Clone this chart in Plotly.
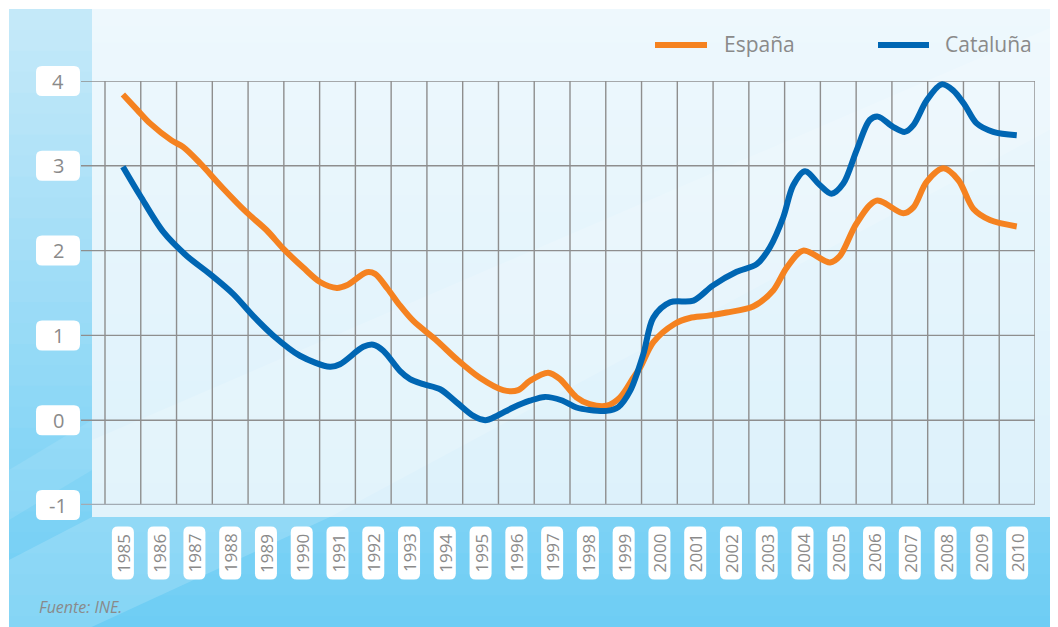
import plotly.graph_objects as go

W, H = 1058, 627

# ---------------- data ----------------
years = list(range(1985, 2011))
year_labels = [str(y) for y in years]
y_ticks = [4, 3, 2, 1, 0, -1]
y_tick_labels = ["4", "3", "2", "1", "0", "-1"]

espana_x = [1985.0, 1985.4, 1985.76, 1986.36, 1986.69, 1987.16, 1987.81, 1988.46,
            1989.02, 1989.49, 1990.04, 1990.51, 1990.98, 1991.26, 1991.82, 1992.05,
            1992.4, 1992.75, 1993.12, 1993.77, 1994.33, 1994.98, 1995.63, 1996.05,
            1996.38, 1996.89, 1997.22, 1997.68, 1998.05, 1998.52, 1998.9, 1999.27,
            1999.46, 1999.83, 2000.42, 2000.85, 2001.32, 2001.88, 2002.62, 2003.18,
            2003.56, 2004.02, 2004.77, 2005.05, 2005.51, 2006.07, 2006.82, 2007.1,
            2007.47, 2007.94, 2008.36, 2008.78, 2009.24, 2009.99]
espana_y = [3.84, 3.66, 3.50, 3.30, 3.22, 3.03, 2.73, 2.45,
            2.24, 2.02, 1.80, 1.63, 1.56, 1.59, 1.745, 1.725,
            1.55, 1.35, 1.17, 0.94, 0.72, 0.50, 0.355, 0.355,
            0.465, 0.56, 0.485, 0.27, 0.19, 0.17, 0.27, 0.50,
            0.62, 0.92, 1.135, 1.205, 1.23, 1.27, 1.34, 1.53,
            1.80, 2.00, 1.86, 1.94, 2.32, 2.59, 2.44, 2.51,
            2.81, 2.97, 2.83, 2.49, 2.36, 2.285]

cataluna_x = [1985.0, 1985.48, 1986.13, 1986.78, 1987.43, 1988.08, 1988.64, 1989.2,
              1989.95, 1990.79, 1991.07, 1991.72, 1992.0, 1992.28, 1992.75, 1993.03,
              1993.4, 1993.87, 1994.33, 1994.8, 1995.13, 1995.45, 1995.91, 1996.38,
              1996.8, 1997.26, 1997.68, 1998.05, 1998.52, 1998.85, 1999.18, 1999.55,
              1999.83, 2000.3, 2000.95, 2001.5, 2002.16, 2002.72, 2003.09, 2003.46,
              2003.74, 2004.07, 2004.49, 2004.81, 2005.14, 2005.51, 2005.88, 2006.11,
              2006.53, 2006.86, 2007.1, 2007.47, 2007.89, 2008.21, 2008.54, 2008.87,
              2009.33, 2009.99]
cataluna_y = [2.99, 2.65, 2.22, 1.94, 1.725, 1.49, 1.23, 1.00,
              0.76, 0.63, 0.66, 0.865, 0.89, 0.82, 0.58, 0.485,
              0.425, 0.365, 0.21, 0.05, 0.0, 0.05, 0.15, 0.23,
              0.275, 0.235, 0.15, 0.12, 0.11, 0.155, 0.345, 0.78,
              1.21, 1.39, 1.41, 1.59, 1.75, 1.84, 2.04, 2.39,
              2.77, 2.935, 2.77, 2.67, 2.79, 3.18, 3.54, 3.58,
              3.46, 3.40, 3.48, 3.77, 3.96, 3.89, 3.715, 3.50,
              3.40, 3.36]

series_names = ["España", "Cataluña"]
source_text = "Fuente: INE."

# ---------------- style ----------------
ORANGE = "#f58220"
BLUE = "#0066b3"
GRID = "#8e8e8e"
TXT = "#8a8a8a"
FONT = "Open Sans"

X0, X1 = 1983.829, 2010.5
Y0, Y1 = -1, 4

OFF = 8  # page body margin: figure origin sits at page (8, 8)
# plot area in page pixels
PL, PR, PT, PB = 81, 1035, 81, 505
ML, MT = PL - OFF, PT - OFF
MR, MB = W - (PR - OFF), H - (PB - OFF)
PW, PH = PR - PL, PB - PT


# page pixel -> paper coordinates (relative to plot area)
def px(x):
    return (x - PL) / PW


def py(y):
    return 1 - (y - PT) / PH


def xdata_to_px(v):
    return PL + (v - X0) / (X1 - X0) * PW


def ydata_to_px(v):
    return PT + (Y1 - v) / (Y1 - Y0) * PH


def hex2rgb(h):
    h = h.lstrip("#")
    return tuple(int(h[i:i + 2], 16) for i in (0, 2, 4))


shapes = []


def grad_rect(x0, y0, x1, y1, ctop, cbot, n=30):
    a, b = hex2rgb(ctop), hex2rgb(cbot)
    for i in range(n):
        ya = y0 + (y1 - y0) * i / n
        yb = min(y1, y0 + (y1 - y0) * (i + 1) / n + 1)
        t = (i + 0.5) / n
        c = tuple(round(a[k] + (b[k] - a[k]) * t) for k in range(3))
        shapes.append(dict(type="rect", xref="paper", yref="paper",
                           x0=px(x0), x1=px(x1), y0=py(yb), y1=py(ya),
                           fillcolor="rgb(%d,%d,%d)" % c, line=dict(width=0),
                           layer="below"))


def poly(points, color):
    p = "M" + " L".join("%f,%f" % (px(x), py(y)) for x, y in points) + " Z"
    shapes.append(dict(type="path", xref="paper", yref="paper", path=p,
                       fillcolor=color, line=dict(width=0), layer="below"))


def rrect(cx, cy, w, h, r, color="white"):
    x0, x1 = cx - w / 2, cx + w / 2
    y0, y1 = cy - h / 2, cy + h / 2
    P = lambda x, y: "%f,%f" % (px(x), py(y))
    path = ("M" + P(x0 + r, y0) + " L" + P(x1 - r, y0) + " Q" + P(x1, y0) + " " + P(x1, y0 + r)
            + " L" + P(x1, y1 - r) + " Q" + P(x1, y1) + " " + P(x1 - r, y1)
            + " L" + P(x0 + r, y1) + " Q" + P(x0, y1) + " " + P(x0, y1 - r)
            + " L" + P(x0, y0 + r) + " Q" + P(x0, y0) + " " + P(x0 + r, y0) + " Z")
    shapes.append(dict(type="path", xref="paper", yref="paper", path=path,
                       fillcolor=color, line=dict(width=0), layer="below"))


# background: outer blue frame, lighter panel
grad_rect(9, 9, W + 10, H + 10, "#c6e9f9", "#6ccdf4")
poly([(9, 637), (70, 637), (330, 517), (92, 517), (9, 560)], "rgba(255,255,255,0.16)")
poly([(9, 470), (9, 520), (92, 470), (92, 420)], "rgba(255,255,255,0.10)")
grad_rect(92, 9, W + 10, 517, "#eef8fd", "#dcf1fb")
poly([(92, 517), (92, 440), (1068, 20), (1068, 120), (330, 517)], "rgba(255,255,255,0.16)")

# grid lines
for yr in years + [2011]:
    shapes.append(dict(type="line", xref="x", yref="y", x0=yr - 0.5, x1=yr - 0.5,
                       y0=Y0, y1=Y1, line=dict(color=GRID, width=1.4), layer="below"))
for v in y_ticks:
    if v == Y0:
        continue
    shapes.append(dict(type="line", xref="x", yref="y", x0=X0, x1=X1, y0=v, y1=v,
                       line=dict(color=GRID, width=1.4), layer="below"))
shapes.append(dict(type="line", xref="x", yref="y", x0=X0, x1=X1, y0=Y0, y1=Y0,
                   line=dict(color="#a2abb3", width=2.6), layer="below"))

annotations = []

# y tick label boxes
for v, lab in zip(y_ticks, y_tick_labels):
    rrect(58, ydata_to_px(v), 44, 30, 6)
    annotations.append(dict(x=px(58), xref="paper", y=v, yref="y", text=lab,
                            showarrow=False, xanchor="center", yanchor="middle",
                            font=dict(family=FONT, size=20, color=TXT)))

# year label boxes
for yr, lab in zip(years, year_labels):
    rrect(xdata_to_px(yr), 553, 22, 53, 6)
    annotations.append(dict(x=yr, xref="x", y=py(553), yref="paper", text=lab,
                            textangle=-90, showarrow=False, xanchor="center",
                            yanchor="middle",
                            font=dict(family=FONT, size=17, color=TXT)))

# legend (custom)
for (x0, x1, tx), name, col in zip([(655, 707, 722), (878, 929, 943)], series_names,
                                   [ORANGE, BLUE]):
    shapes.append(dict(type="line", xref="paper", yref="paper", x0=px(x0), x1=px(x1),
                       y0=py(45), y1=py(45), line=dict(color=col, width=6)))
    annotations.append(dict(x=px(tx), xref="paper", y=py(44), yref="paper", text=name,
                            showarrow=False, xanchor="left", yanchor="middle",
                            font=dict(family=FONT, size=21, color=TXT)))

annotations.append(dict(x=px(37), xref="paper", y=py(607), yref="paper",
                        text="<i>" + source_text + "</i>", showarrow=False,
                        xanchor="left", yanchor="middle",
                        font=dict(family=FONT, size=16, color=TXT)))

fig = go.Figure()
fig.add_trace(go.Scatter(x=espana_x, y=espana_y, mode="lines", name=series_names[0],
                         line=dict(color=ORANGE, width=6, shape="spline", smoothing=0.9),
                         hoverinfo="x+y"))
fig.add_trace(go.Scatter(x=cataluna_x, y=cataluna_y, mode="lines", name=series_names[1],
                         line=dict(color=BLUE, width=6, shape="spline", smoothing=0.9),
                         hoverinfo="x+y"))

fig.update_layout(
    width=W, height=H,
    margin=dict(l=ML, r=MR, t=MT, b=MB, pad=0),
    paper_bgcolor="white", plot_bgcolor="rgba(0,0,0,0)",
    showlegend=False,
    shapes=shapes, annotations=annotations,
    xaxis=dict(range=[X0, X1], showgrid=False, zeroline=False, showline=False,
               showticklabels=False, ticks="", fixedrange=True),
    yaxis=dict(range=[Y0, Y1], showgrid=False, zeroline=False, showline=False,
               showticklabels=False, ticks="", fixedrange=True),
    font=dict(family=FONT, color=TXT),
)

fig.write_html("out.html")
